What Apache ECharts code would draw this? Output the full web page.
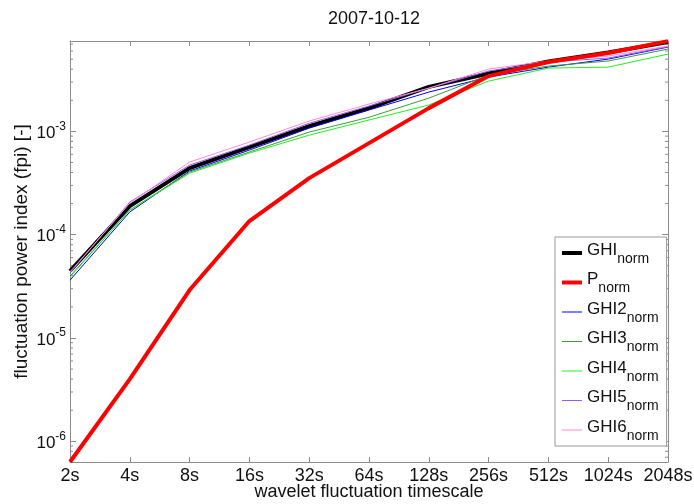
<!DOCTYPE html>
<html>
<head>
<meta charset="utf-8">
<script src="https://cdn.jsdelivr.net/npm/echarts@6/dist/echarts.min.js"></script>
<style>
  html, body { margin: 0; padding: 0; background: #fff; }
  #chart { width: 694px; height: 504px; }
</style>
</head>
<body>
<div id="chart"></div>
<script>
// Wavelet timescales (x categories)
const timescales = ['2s', '4s', '8s', '16s', '32s', '64s', '128s', '256s', '512s', '1024s', '2048s'];

// Fluctuation power index per timescale
const ghiNorm  = [4.45e-5, 1.89e-4, 4.41e-4, 7.05e-4, 1.125e-3, 1.68e-3, 2.70e-3, 3.63e-3, 4.75e-3, 5.80e-3, 7.31e-3];
const pNorm    = [6.3e-7, 4.0e-6, 2.91e-5, 1.355e-4, 3.53e-4, 7.7e-4, 1.68e-3, 3.43e-3, 4.69e-3, 5.73e-3, 7.48e-3];
const ghi2Norm = [3.63e-5, 1.66e-4, 4.13e-4, 6.59e-4, 1.076e-3, 1.61e-3, 2.40e-3, 3.36e-3, 4.19e-3, 5.01e-3, 6.55e-3];
const ghi3Norm = [3.97e-5, 1.73e-4, 4.04e-4, 6.31e-4, 9.85e-4, 1.37e-3, 2.10e-3, 3.51e-3, 4.29e-3, 4.80e-3, 6.27e-3];
const ghi4Norm = [3.89e-5, 1.73e-4, 3.94e-4, 6.17e-4, 9.2e-4, 1.29e-3, 1.80e-3, 3.07e-3, 4.10e-3, 4.19e-3, 5.60e-3];
const ghi5Norm = [4.25e-5, 2.07e-4, 4.72e-4, 7.36e-4, 1.20e-3, 1.76e-3, 2.62e-3, 3.84e-3, 4.69e-3, 5.13e-3, 6.62e-3];
const ghi6Norm = [4.35e-5, 2.02e-4, 5.05e-4, 7.88e-4, 1.26e-3, 1.84e-3, 2.62e-3, 4.01e-3, 4.80e-3, 5.36e-3, 6.70e-3];

// Y-axis limits (tight to the data)
const yMin = 6.3e-7;
const yMax = 7.5e-3;

// Minor tick values between decades (2..9 x 10^n) inside the axis range
const minorTickValues = [];
for (let e = -7; e <= -3; e++) {
  for (let k = 2; k <= 9; k++) {
    const v = k * Math.pow(10, e);
    if (v > yMin && v < yMax) minorTickValues.push(v);
  }
}

const FONT = 'Liberation Sans, Arial, sans-serif';
const AXIS_COLOR = '#8c8c8c';
const TEXT_COLOR = '#111';

const chart = echarts.init(document.getElementById('chart'), null, { renderer: 'canvas' });

function expLabel(value) {
  const lg = Math.log10(value);
  const e = Math.round(lg);
  if (Math.abs(lg - e) > 1e-6) return '';
  return '{b|10}{s|' + e + '}';
}

function lineSeries(name, data, color, width, z) {
  return {
    name: name,
    type: 'line',
    data: data,
    symbol: 'none',
    smooth: false,
    z: z,
    lineStyle: { color: color, width: width },
    itemStyle: { color: color },
    emphasis: { disabled: true },
    animation: false
  };
}

const option = {
  animation: false,
  backgroundColor: '#fff',
  textStyle: { fontFamily: FONT },
  title: {
    text: '2007-10-12',
    left: 369,
    top: 5,
    textAlign: 'center',
    textStyle: { fontFamily: FONT, fontSize: 18, fontWeight: 'normal', color: TEXT_COLOR }
  },
  grid: {
    left: 70, right: 26, top: 41, bottom: 42,
    outerBoundsMode: 'none',
    containLabel: false
  },
  legend: {
    orient: 'vertical',
    left: 555,
    top: 237,
    padding: [3, 8, 3, 5],
    itemGap: 3.5,
    itemWidth: 20,
    itemHeight: 14,
    backgroundColor: '#fff',
    borderColor: '#9a9a9a',
    borderWidth: 1,
    borderRadius: 0,
    selectedMode: false,
    itemStyle: { opacity: 0, borderWidth: 0 },
    lineStyle: { width: 'inherit' },
    data: ['GHI', 'P', 'GHI2', 'GHI3', 'GHI4', 'GHI5', 'GHI6'],
    formatter: function (name) { return '{m|' + name + '}{s|norm}'; },
    textStyle: {
      fontFamily: FONT,
      color: TEXT_COLOR,
      rich: {
        m: { fontFamily: FONT, fontSize: 17, color: TEXT_COLOR, lineHeight: 20, padding: [0, 0, 6, 0] },
        s: { fontFamily: FONT, fontSize: 14, color: TEXT_COLOR, lineHeight: 16, padding: [12, 0, 0, 0] }
      }
    }
  },
  xAxis: [
    {
      type: 'category',
      data: timescales,
      boundaryGap: false,
      position: 'bottom',
      name: 'wavelet fluctuation timescale',
      nameLocation: 'middle',
      nameGap: 21,
      nameMoveOverlap: false,
      nameTextStyle: { fontFamily: FONT, fontSize: 18, color: TEXT_COLOR },
      axisLine: { lineStyle: { color: AXIS_COLOR, width: 1 } },
      axisTick: { inside: true, length: 5, alignWithLabel: true, lineStyle: { color: AXIS_COLOR } },
      axisLabel: { fontFamily: FONT, fontSize: 18, color: TEXT_COLOR, margin: 5, interval: 0 },
      splitLine: { show: false }
    },
    {
      type: 'category',
      data: timescales,
      boundaryGap: false,
      position: 'top',
      axisLine: { lineStyle: { color: AXIS_COLOR, width: 1 } },
      axisTick: { inside: true, length: 5, alignWithLabel: true, lineStyle: { color: AXIS_COLOR } },
      axisLabel: { show: false },
      splitLine: { show: false }
    }
  ],
  yAxis: [
    {
      type: 'log',
      logBase: 10,
      min: yMin,
      max: yMax,
      position: 'left',
      name: 'fluctuation power index (fpi) [-]',
      nameLocation: 'middle',
      nameGap: 39,
      nameMoveOverlap: false,
      nameRotate: 90,
      nameTextStyle: { fontFamily: FONT, fontSize: 19, color: TEXT_COLOR },
      axisLine: { show: true, lineStyle: { color: AXIS_COLOR, width: 1 } },
      axisTick: { show: true, inside: true, length: 6, lineStyle: { color: AXIS_COLOR } },
      axisLabel: {
        show: true,
        margin: 4,
        showMinLabel: false,
        showMaxLabel: false,
        formatter: expLabel,
        rich: {
          b: { fontFamily: FONT, fontSize: 17, color: TEXT_COLOR, padding: [4, 0, 0, 0] },
          s: { fontFamily: FONT, fontSize: 12, color: TEXT_COLOR, padding: [0, 0, 10, 0] }
        }
      },
      splitLine: { show: false }
    },
    {
      type: 'log',
      logBase: 10,
      min: yMin,
      max: yMax,
      position: 'right',
      axisLine: { show: true, lineStyle: { color: AXIS_COLOR, width: 1 } },
      axisTick: { show: true, inside: true, length: 6, lineStyle: { color: AXIS_COLOR } },
      axisLabel: { show: false },
      splitLine: { show: false }
    }
  ],
  series: [
    {
      name: 'minor ticks',
      type: 'custom',
      xAxisIndex: 0,
      yAxisIndex: 0,
      silent: true,
      z: 1,
      data: minorTickValues.map(function (v) { return [0, v]; }),
      renderItem: function (params, api) {
        const v = api.value(1);
        const l = api.coord([0, v]);
        const r = api.coord([timescales.length - 1, v]);
        return {
          type: 'group',
          children: [
            { type: 'line', shape: { x1: l[0], y1: l[1], x2: l[0] + 3, y2: l[1] }, style: { stroke: AXIS_COLOR, lineWidth: 1 } },
            { type: 'line', shape: { x1: r[0] - 3, y1: r[1], x2: r[0], y2: r[1] }, style: { stroke: AXIS_COLOR, lineWidth: 1 } }
          ]
        };
      }
    },
    lineSeries('GHI', ghiNorm, '#000000', 4, 3),
    lineSeries('P', pNorm, '#ff0000', 4, 5),
    lineSeries('GHI2', ghi2Norm, '#0000ff', 1, 4),
    lineSeries('GHI3', ghi3Norm, '#3c9c3c', 1, 4),
    lineSeries('GHI4', ghi4Norm, '#22ee22', 1, 4),
    lineSeries('GHI5', ghi5Norm, '#9a5cf0', 1, 4),
    lineSeries('GHI6', ghi6Norm, '#ff8ad8', 1, 4)
  ]
};

chart.setOption(option);
</script>
</body>
</html>
